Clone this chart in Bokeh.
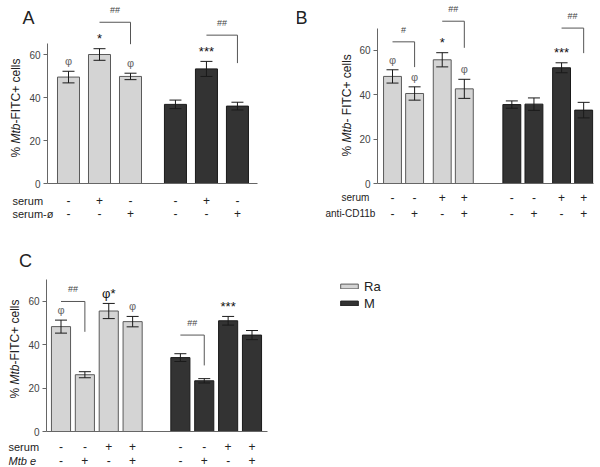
import numpy as np
from bokeh.plotting import figure
from bokeh.layouts import column, row
from bokeh.models import (Range1d, Label, FixedTicker, ColumnDataSource, Whisker,
                          TeeHead, Legend, LegendItem)
from bokeh.embed import file_html
from bokeh.resources import INLINE
from bokeh.core.properties import value

FONT = "Liberation Sans"
LIGHT, LIGHT_LINE = "#d4d4d4", "#5a5a5a"
DARK, DARK_LINE = "#333333", "#1a1a1a"
AXIS_COL = "#666666"

# ---------------- data ----------------
# Panel A
A_ra = [49.5, 60.0, 49.8]
A_ra_err = [2.7, 2.7, 1.5]
A_m = [36.8, 53.3, 36.0]
A_m_err = [2.0, 3.5, 1.8]
A_row1 = ["-", "+", "-", "-", "+", "-"]
A_row2 = ["-", "-", "+", "-", "-", "+"]
A_marks = ["φ", "*", "φ", "", "***", ""]
A_br_from = [1, 4]
A_br_to = [2, 5]
A_br_top = [75.0, 69.0]
A_br_drop = [64.8, 56.0]
A_br_text = ["##", "##"]

# Panel B
B_ra = [48.3, 40.6, 55.8, 42.7]
B_ra_err = [3.0, 3.0, 3.2, 4.3]
B_m = [35.6, 35.8, 52.2, 33.1]
B_m_err = [1.65, 2.8, 2.25, 3.5]
B_row1 = ["-", "-", "+", "+", "-", "-", "+", "+"]
B_row2 = ["-", "+", "-", "+", "-", "+", "-", "+"]
B_marks = ["φ", "φ", "*", "φ", "", "", "***", ""]
B_br_from = [0, 2, 6]
B_br_to = [1, 3, 7]
B_br_top = [63.9, 73.2, 70.1]
B_br_drop = [52.5, 61.2, 58.8]
B_br_text = ["#", "##", "##"]

# Panel C
C_ra = [48.4, 26.2, 55.6, 50.7]
C_ra_err = [3.0, 1.4, 3.5, 2.4]
C_m = [34.1, 23.4, 51.1, 44.5]
C_m_err = [1.8, 1.0, 2.0, 2.1]
C_row1 = ["-", "-", "+", "+", "-", "-", "+", "+"]
C_row2 = ["-", "+", "-", "+", "-", "+", "-", "+"]
C_marks = ["φ", "", "φ*", "φ", "", "", "***", ""]
C_br_from = [0, 4]
C_br_to = [1, 5]
C_br_top = [60.0, 44.5]
C_br_drop = [46.0, 30.5]
C_br_text = ["##", "##"]

Y_TICKS = [0, 20, 40, 60]
SERIES = ["Ra", "M"]


# ---------------- helpers ----------------
def make_panel(W, H, L, unit, c0, zero_y, ppv, ytop):
    # frame covers the whole figure; the y axis is drawn at a fixed location
    x0 = (0 - c0) / unit
    x1 = (W - c0) / unit
    y1 = zero_y / ppv
    y0 = -(H - zero_y) / ppv
    p = figure(width=W, height=H, x_range=Range1d(x0, x1), y_range=Range1d(y0, y1),
               x_axis_type=None, output_backend="svg", toolbar_location=None,
               min_border_left=0, min_border_right=0, min_border_top=0,
               min_border_bottom=0)
    p.outline_line_color = None
    p.grid.visible = False
    p.background_fill_color = "white"
    ax = p.yaxis[0]
    ax.fixed_location = (L - c0) / unit
    ax.ticker = FixedTicker(ticks=Y_TICKS)
    ax.bounds = (0, ytop)
    ax.axis_line_color = AXIS_COL
    ax.major_tick_line_color = AXIS_COL
    ax.major_tick_out = 4
    ax.major_tick_in = 0
    ax.minor_tick_out = 0
    ax.minor_tick_in = 0
    ax.major_label_text_font = FONT
    ax.major_label_text_font_size = "10px"
    ax.major_label_text_color = "#444444"
    ax.major_label_standoff = 3
    g = dict(c0=c0, unit=unit, zero_y=zero_y, ppv=ppv, xa=(L - c0) / unit)
    return p, g


def dx(g, cx):
    return (cx - g["c0"]) / g["unit"]


def dy(g, cy):
    return (g["zero_y"] - cy) / g["ppv"]


def draw(p, g, xl, xd, ra, ra_err, m, m_err, width, marks,
         bf, bt, btop, bdrop, btext, base_end):
    src_l = ColumnDataSource(dict(x=xl, top=ra,
                                  up=[v + e for v, e in zip(ra, ra_err)],
                                  lo=[v - e for v, e in zip(ra, ra_err)]))
    src_d = ColumnDataSource(dict(x=xd, top=m,
                                  up=[v + e for v, e in zip(m, m_err)],
                                  lo=[v - e for v, e in zip(m, m_err)]))
    rl = p.vbar(x="x", top="top", bottom=0, width=width, fill_color=LIGHT,
                line_color=LIGHT_LINE, line_width=1, source=src_l)
    rd = p.vbar(x="x", top="top", bottom=0, width=width, fill_color=DARK,
                line_color=DARK_LINE, line_width=1, source=src_d)
    for src in (src_l, src_d):
        w = Whisker(base="x", upper="up", lower="lo", source=src,
                    line_color="#1a1a1a", line_width=1, level="annotation",
                    upper_head=TeeHead(size=12, line_color="#1a1a1a", line_width=1),
                    lower_head=TeeHead(size=12, line_color="#1a1a1a", line_width=1))
        p.add_layout(w)
    # baseline (x axis line)
    p.line([g["xa"], base_end], [0, 0], line_color=AXIS_COL, line_width=1)
    # significance marks (phi grey, asterisks black)
    xs = list(xl) + list(xd)
    tops = [v + e for v, e in zip(ra, ra_err)] + [v + e for v, e in zip(m, m_err)]
    off = 10 / g["ppv"]
    cols = ["#111111" if "*" in t else "#666666" for t in marks]
    sizes = ["13px" if "*" in t else "11px" for t in marks]
    msrc = ColumnDataSource(dict(x=xs, y=[t + off for t in tops], text=marks,
                                 c=cols, s=sizes))
    p.text(x="x", y="y", text="text", text_align="center",
           text_baseline="middle", text_font=value(FONT), text_font_size="s",
           text_color="c", source=msrc)
    # brackets
    bxs, bys, tx, ty = [], [], [], []
    for a, b, t, d in zip(bf, bt, btop, bdrop):
        xa, xb = xs[a], xs[b]
        bxs.append([xa, xb, xb])
        bys.append([t, t, d])
        tx.append((xa + xb) / 2)
        ty.append(t + 12 / g["ppv"])
    p.multi_line(xs=bxs, ys=bys, line_color="#555555", line_width=1)
    p.text(x=tx, y=ty, text=btext, text_align="center", text_baseline="middle",
           text_font=value(FONT), text_font_size="9px", text_color="#444444")
    return rl, rd, xs


def signs(p, xs, y, vals, size="12px"):
    p.text(x=xs, y=[y] * len(xs), text=vals, text_align="center",
           text_baseline="middle", text_font=value(FONT), text_font_size=size,
           text_color="#222222")


def lab(p, x, y, text, size="11px", align="left", style="normal", angle=0,
        color="#222222"):
    p.add_layout(Label(x=x, y=y, text=text, text_align=align,
                       text_baseline="middle", text_font=FONT,
                       text_font_size=size, text_font_style=style, angle=angle,
                       text_color=color))


def ylabel(p, g, cx, cy_start, parts, size=12):
    # parts: list of (text, style, width_em)
    y = dy(g, cy_start)
    for t, st, w_em in parts:
        lab(p, dx(g, cx), y, t, size="%dpx" % size, style=st, angle=np.pi / 2)
        y += w_em * size / g["ppv"]


# ---------------- Panel A ----------------
pA, gA = make_panel(W=296, H=240, L=47, unit=31.0, c0=68, zero_y=183,
                    ppv=2.15, ytop=65)
A_xl = [0, 1, 2]
A_xd = [3.45, 4.45, 5.45]
_, _, A_xs = draw(pA, gA, A_xl, A_xd, A_ra, A_ra_err, A_m, A_m_err, 0.71, A_marks,
                  A_br_from, A_br_to, A_br_top, A_br_drop, A_br_text,
                  base_end=dx(gA, 257))
signs(pA, A_xs, dy(gA, 200), A_row1)
signs(pA, A_xs, dy(gA, 213), A_row2)
lab(pA, dx(gA, 12), dy(gA, 200), "serum")
lab(pA, dx(gA, 12), dy(gA, 213), "serum-ø")
lab(pA, dx(gA, 28), dy(gA, 17), "A", size="18px", align="center")
ylabel(pA, gA, 15, 157, [("% ", "normal", 1.167), ("Mtb", "italic", 1.667),
                         ("-FITC+ cells", "normal", 5.4)])

# ---------------- Panel B ----------------
pB, gB = make_panel(W=304, H=240, L=81, unit=22.1, c0=96, zero_y=183,
                    ppv=2.217, ytop=70)
B_xl = [0, 1, 2.25, 3.25]
B_xd = [5.4, 6.4, 7.65, 8.65]
_, _, B_xs = draw(pB, gB, B_xl, B_xd, B_ra, B_ra_err, B_m, B_m_err, 0.81, B_marks,
                  B_br_from, B_br_to, B_br_top, B_br_drop, B_br_text,
                  base_end=dx(gB, 297))
signs(pB, B_xs, dy(gB, 197), B_row1)
signs(pB, B_xs, dy(gB, 213), B_row2)
lab(pB, dx(gB, 45), dy(gB, 197), "serum", size="10px")
lab(pB, dx(gB, 29), dy(gB, 213), "anti-CD11b", size="10px")
lab(pB, dx(gB, 5), dy(gB, 17), "B", size="18px", align="center")
ylabel(pB, gB, 50, 156, [("% ", "normal", 1.167), ("Mtb", "italic", 1.667),
                         ("- FITC+ cells", "normal", 5.7)])

# ---------------- Panel C ----------------
pC, gC = make_panel(W=600, H=227, L=46, unit=23.875, c0=60.5, zero_y=191,
                    ppv=2.167, ytop=70)
C_xl = [0, 1, 2, 3]
C_xd = [5, 6, 7, 8]
rl, rd, C_xs = draw(pC, gC, C_xl, C_xd, C_ra, C_ra_err, C_m, C_m_err, 0.8, C_marks,
                    C_br_from, C_br_to, C_br_top, C_br_drop, C_br_text,
                    base_end=dx(gC, 267))
signs(pC, C_xs, dy(gC, 206), C_row1)
signs(pC, C_xs, dy(gC, 220), C_row2)
lab(pC, dx(gC, 8), dy(gC, 206), "serum")
lab(pC, dx(gC, 8), dy(gC, 220), "Mtb e", style="italic")
lab(pC, dx(gC, 25), dy(gC, 20), "C", size="18px", align="center")
ylabel(pC, gC, 14, 158, [("% ", "normal", 1.167), ("Mtb", "italic", 1.667),
                         ("-FITC+ cells", "normal", 5.4)])

legend = Legend(items=[LegendItem(label=SERIES[0], renderers=[rl]),
                       LegendItem(label=SERIES[1], renderers=[rd])],
                location=(338, 227 - 71), orientation="vertical",
                glyph_width=22, glyph_height=6, label_height=16, spacing=1,
                padding=0, margin=0, label_standoff=4,
                label_text_font=FONT, label_text_font_size="13px",
                label_text_color="#222222",
                border_line_color=None, background_fill_alpha=0)
pC.add_layout(legend)

layout = column(row(pA, pB), pC)
open("out.html", "w").write(file_html(layout, INLINE))
